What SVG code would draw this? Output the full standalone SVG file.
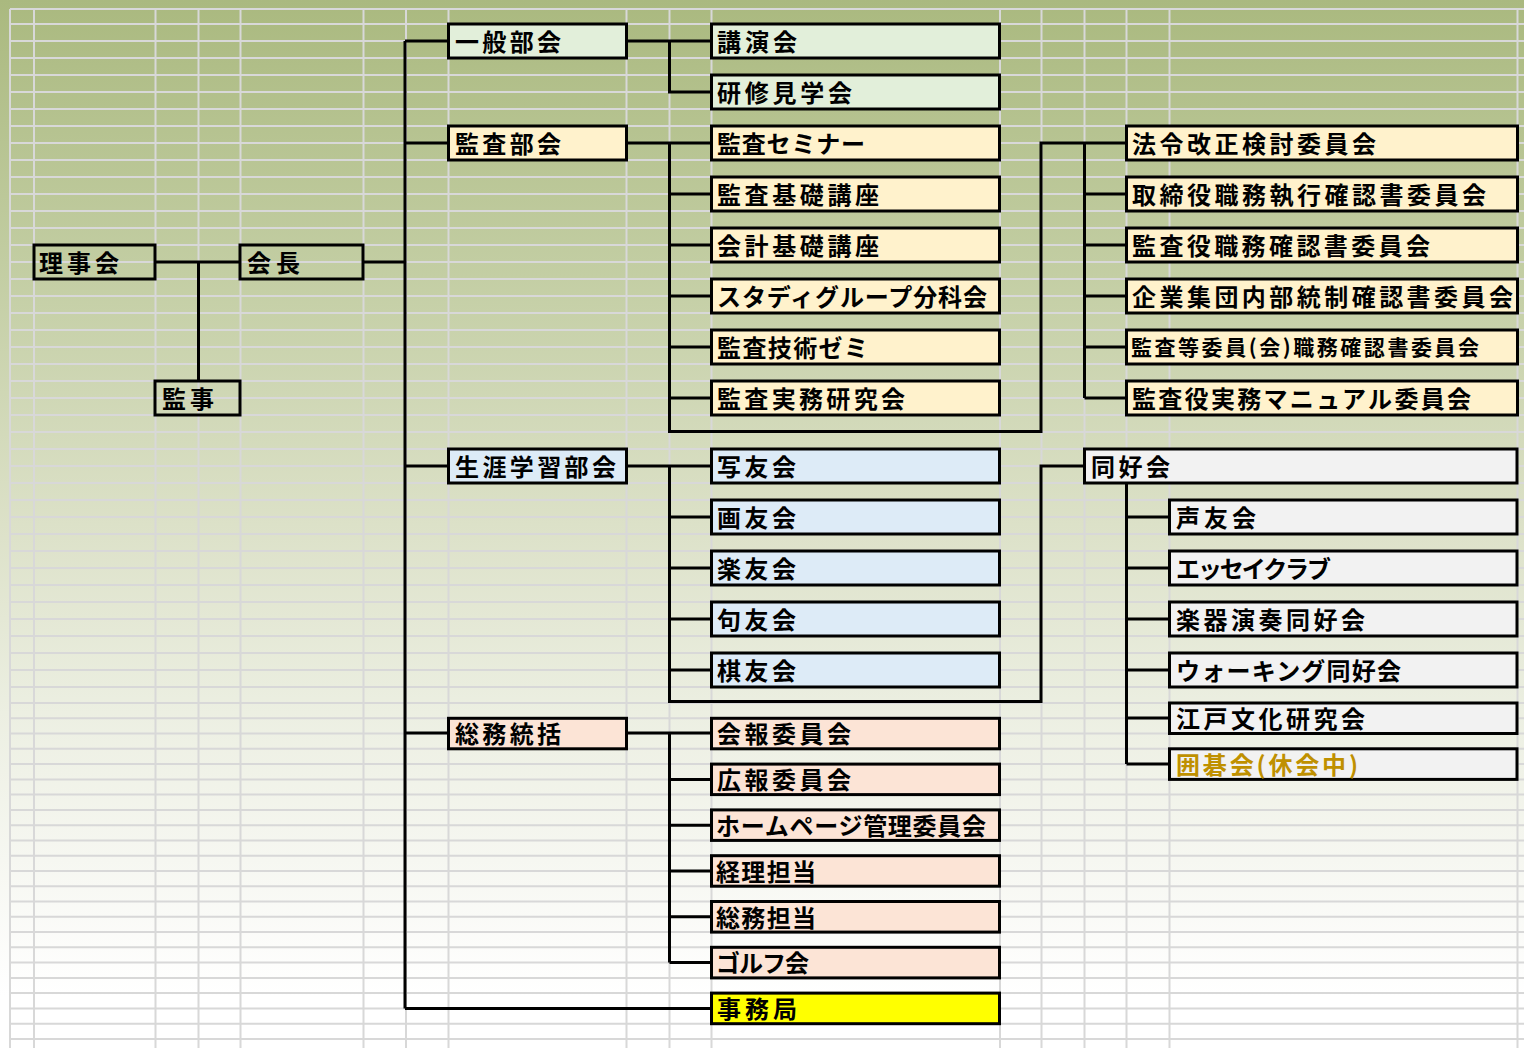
<svg xmlns="http://www.w3.org/2000/svg" width="1524" height="1048" viewBox="0 0 1524 1048">
<defs>
<linearGradient id="bg" x1="0" y1="0" x2="0" y2="1">
<stop offset="0" stop-color="#aab97f"/>
<stop offset="0.25" stop-color="#c2cda2"/>
<stop offset="0.5" stop-color="#dce1c8"/>
<stop offset="0.68" stop-color="#ecefe2"/>
<stop offset="0.82" stop-color="#f6f7f1"/>
<stop offset="0.95" stop-color="#ffffff"/>
</linearGradient>
</defs>
<style>
.grid{stroke:#d8d8d8;stroke-width:2;fill:none}
.conn{stroke:#000;stroke-width:3;fill:none;stroke-linejoin:miter}
.box{stroke:#000;stroke-width:3}
.none{fill:none}
.g{fill:#e2efda}
.y{fill:#fff2cc}
.b{fill:#ddebf7}
.p{fill:#fce4d6}
.k{fill:#f2f2f2}
.yy{fill:#ffff00}
.t{font-family:"Noto Sans CJK JP","Noto Sans CJK SC",sans-serif;font-size:24px;font-weight:700;fill:#000}
</style>
<rect x="0" y="0" width="1524" height="1048" fill="url(#bg)"/>
<g id="grid">
<path class="grid" d="M10 9V1048M34 9V1048M155.5 9V1048M198.5 9V1048M240.5 9V1048M363.5 9V1048M406 9V1048M448.5 9V1048M626.5 9V1048M669.5 9V1048M711.5 9V1048M1000 9V1048M1041.5 9V1048M1084.5 9V1048M1126.5 9V1048M1169.5 9V1048M1517.5 9V1048"/>
<path class="grid" d="M10 9H1524M10 24H1524M10 41H1524M10 58H1524M10 75H1524M10 92H1524M10 109H1524M10 126H1524M10 143H1524M10 160H1524M10 177H1524M10 194H1524M10 211H1524M10 228H1524M10 245H1524M10 262H1524M10 279H1524M10 296H1524M10 313H1524M10 330H1524M10 347H1524M10 364H1524M10 381H1524M10 398H1524M10 415H1524M10 432H1524M10 449H1524M10 466H1524M10 483H1524M10 500H1524M10 517H1524M10 534H1524M10 551H1524M10 568H1524M10 585H1524M10 602H1524M10 619H1524M10 636H1524M10 653H1524M10 670H1524M10 687H1524M10 703H1524M10 718.3H1524M10 733.5H1524M10 748.8H1524M10 764.1H1524M10 779.4H1524M10 794.6H1524M10 809.9H1524M10 825.2H1524M10 840.4H1524M10 855.7H1524M10 871H1524M10 886.2H1524M10 901.5H1524M10 916.8H1524M10 932.1H1524M10 947.3H1524M10 962.6H1524M10 977.9H1524M10 993.1H1524M10 1008.4H1524M10 1023.7H1524M10 1039H1524"/>
</g>
<g id="connectors">
<path class="conn" d="M155 262H240M198.5 262V381M363 262H405"/>
<path class="conn" d="M405 41V1008.4M405 41H448.5M405 143H448.5M405 466H448.5M405 733H448.5M405 1008.4H711.5"/>
<path class="conn" d="M626.5 41H711.5M669.5 41V92H711.5"/>
<path class="conn" d="M626.5 143H711.5M669.5 143V431.5H1041V143H1126.5M669.5 194H711.5M669.5 245H711.5M669.5 296H711.5M669.5 347H711.5M669.5 398H711.5"/>
<path class="conn" d="M1084.5 143V398M1084.5 194H1126.5M1084.5 245H1126.5M1084.5 296H1126.5M1084.5 347H1126.5M1084.5 398H1126.5"/>
<path class="conn" d="M626.5 466H711.5M669.5 466V701.5H1041V466H1084M669.5 517H711.5M669.5 568H711.5M669.5 619H711.5M669.5 670H711.5"/>
<path class="conn" d="M1126.5 483V764M1126.5 517H1169.5M1126.5 568H1169.5M1126.5 619H1169.5M1126.5 670H1169.5M1126.5 718H1169.5M1126.5 764H1169.5"/>
<path class="conn" d="M626.5 733H711.5M669.5 733V962.6M669.5 779.4H711.5M669.5 825.2H711.5M669.5 871H711.5M669.5 916.8H711.5M669.5 962.6H711.5"/>
</g>
<g id="n-rijikai"><rect class="box none" x="34" y="245" width="121" height="34"/><text class="t" x="39" y="272" textLength="80" lengthAdjust="spacing">理事会</text></g>
<g id="n-kaicho"><rect class="box none" x="240" y="245" width="123" height="34"/><text class="t" x="247" y="272" textLength="53" lengthAdjust="spacing">会長</text></g>
<g id="n-kanji"><rect class="box none" x="155" y="381" width="85" height="34"/><text class="t" x="162" y="408" textLength="52" lengthAdjust="spacing">監事</text></g>

<g id="n-ippan"><rect class="box g" x="448.5" y="24" width="178" height="34"/><text class="t" x="455" y="51" textLength="106" lengthAdjust="spacing">一般部会</text></g>
<g id="n-kansa"><rect class="box y" x="448.5" y="126" width="178" height="34"/><text class="t" x="455" y="153" textLength="106" lengthAdjust="spacing">監査部会</text></g>
<g id="n-shogai"><rect class="box b" x="448.5" y="449" width="178" height="34"/><text class="t" x="455" y="476" textLength="161" lengthAdjust="spacing">生涯学習部会</text></g>
<g id="n-somu"><rect class="box p" x="448.5" y="718.3" width="178" height="30.5"/><text class="t" x="455" y="743.3" textLength="106" lengthAdjust="spacing">総務統括</text></g>

<g id="n-koen"><rect class="box g" x="711.5" y="24" width="288" height="34"/><text class="t" x="717" y="51" textLength="80" lengthAdjust="spacing">講演会</text></g>
<g id="n-kenshu"><rect class="box g" x="711.5" y="75" width="288" height="34"/><text class="t" x="717" y="102" textLength="135" lengthAdjust="spacing">研修見学会</text></g>
<g id="n-seminar"><rect class="box y" x="711.5" y="126" width="288" height="34"/><text class="t" x="717" y="153" textLength="148" lengthAdjust="spacing">監査セミナー</text></g>
<g id="n-kiso"><rect class="box y" x="711.5" y="177" width="288" height="34"/><text class="t" x="717" y="204" textLength="162" lengthAdjust="spacing">監査基礎講座</text></g>
<g id="n-kaikei"><rect class="box y" x="711.5" y="228" width="288" height="34"/><text class="t" x="717" y="255" textLength="162" lengthAdjust="spacing">会計基礎講座</text></g>
<g id="n-study"><rect class="box y" x="711.5" y="279" width="288" height="34"/><text class="t" x="717" y="306" textLength="270" lengthAdjust="spacing">スタディグループ分科会</text></g>
<g id="n-zemi"><rect class="box y" x="711.5" y="330" width="288" height="34"/><text class="t" x="717" y="357" textLength="151" lengthAdjust="spacing">監査技術ゼミ</text></g>
<g id="n-jitsumu"><rect class="box y" x="711.5" y="381" width="288" height="34"/><text class="t" x="717" y="408" textLength="188" lengthAdjust="spacing">監査実務研究会</text></g>

<g id="n-shayu"><rect class="box b" x="711.5" y="449" width="288" height="34"/><text class="t" x="717" y="476" textLength="79" lengthAdjust="spacing">写友会</text></g>
<g id="n-gayu"><rect class="box b" x="711.5" y="500" width="288" height="34"/><text class="t" x="717" y="527" textLength="79" lengthAdjust="spacing">画友会</text></g>
<g id="n-rakuyu"><rect class="box b" x="711.5" y="551" width="288" height="34"/><text class="t" x="717" y="578" textLength="79" lengthAdjust="spacing">楽友会</text></g>
<g id="n-kuyu"><rect class="box b" x="711.5" y="602" width="288" height="34"/><text class="t" x="717" y="629" textLength="79" lengthAdjust="spacing">句友会</text></g>
<g id="n-kiyu"><rect class="box b" x="711.5" y="653" width="288" height="34"/><text class="t" x="717" y="680" textLength="79" lengthAdjust="spacing">棋友会</text></g>

<g id="n-kaiho"><rect class="box p" x="711.5" y="718.3" width="288" height="30.5"/><text class="t" x="717" y="743.3" textLength="134" lengthAdjust="spacing">会報委員会</text></g>
<g id="n-koho"><rect class="box p" x="711.5" y="764.1" width="288" height="30.5"/><text class="t" x="717" y="789" textLength="134" lengthAdjust="spacing">広報委員会</text></g>
<g id="n-hp"><rect class="box p" x="711.5" y="809.9" width="288" height="30.5"/><text class="t" x="716" y="834.9" textLength="270" lengthAdjust="spacing">ホームページ管理委員会</text></g>
<g id="n-keiri"><rect class="box p" x="711.5" y="855.7" width="288" height="30.5"/><text class="t" x="716" y="880.7" textLength="100" lengthAdjust="spacing">経理担当</text></g>
<g id="n-somutanto"><rect class="box p" x="711.5" y="901.5" width="288" height="30.6"/><text class="t" x="716" y="926.6" textLength="100" lengthAdjust="spacing">総務担当</text></g>
<g id="n-golf"><rect class="box p" x="711.5" y="947.3" width="288" height="30.6"/><text class="t" x="716" y="972.4" textLength="93" lengthAdjust="spacing">ゴルフ会</text></g>
<g id="n-jimukyoku"><rect class="box yy" x="711.5" y="993.1" width="288" height="30.6"/><text class="t" x="717" y="1018.2" textLength="80" lengthAdjust="spacing">事務局</text></g>

<g id="n-horei"><rect class="box y" x="1126.5" y="126" width="391" height="34"/><text class="t" x="1132" y="153" textLength="244" lengthAdjust="spacing">法令改正検討委員会</text></g>
<g id="n-torishimari"><rect class="box y" x="1126.5" y="177" width="391" height="34"/><text class="t" x="1132" y="204" textLength="354" lengthAdjust="spacing">取締役職務執行確認書委員会</text></g>
<g id="n-kansayaku"><rect class="box y" x="1126.5" y="228" width="391" height="34"/><text class="t" x="1132" y="255" textLength="298" lengthAdjust="spacing">監査役職務確認書委員会</text></g>
<g id="n-kigyo"><rect class="box y" x="1126.5" y="279" width="391" height="34"/><text class="t" x="1132" y="306" textLength="381" lengthAdjust="spacing">企業集団内部統制確認書委員会</text></g>
<g id="n-kansato"><rect class="box y" x="1126.5" y="330" width="391" height="34"/><text class="t" x="1131" y="354.5" style="font-size:21px" textLength="348" lengthAdjust="spacing">監査等委員(会)職務確認書委員会</text></g>
<g id="n-manual"><rect class="box y" x="1126.5" y="381" width="391" height="34"/><text class="t" x="1132" y="408" textLength="339" lengthAdjust="spacing">監査役実務マニュアル委員会</text></g>

<g id="n-dokokai"><rect class="box k" x="1084.5" y="449" width="432.5" height="34"/><text class="t" x="1091" y="476" textLength="79" lengthAdjust="spacing">同好会</text></g>
<g id="n-seiyu"><rect class="box k" x="1169.5" y="500" width="347.5" height="34"/><text class="t" x="1176" y="527" textLength="80" lengthAdjust="spacing">声友会</text></g>
<g id="n-essay"><rect class="box k" x="1169.5" y="551" width="347.5" height="34"/><text class="t" x="1176" y="578" textLength="155" lengthAdjust="spacing">エッセイクラブ</text></g>
<g id="n-gakki"><rect class="box k" x="1169.5" y="602" width="347.5" height="34"/><text class="t" x="1176" y="629" textLength="189" lengthAdjust="spacing">楽器演奏同好会</text></g>
<g id="n-walking"><rect class="box k" x="1169.5" y="653" width="347.5" height="34"/><text class="t" x="1176" y="680" textLength="225" lengthAdjust="spacing">ウォーキング同好会</text></g>
<g id="n-edo"><rect class="box k" x="1169.5" y="703" width="347.5" height="30.5"/><text class="t" x="1176" y="728" textLength="189" lengthAdjust="spacing">江戸文化研究会</text></g>
<g id="n-igo"><rect class="box k" x="1169.5" y="748.8" width="347.5" height="30.6"/><text class="t" x="1176" y="773.9" textLength="182" lengthAdjust="spacing" style="fill:#bf9000">囲碁会(休会中)</text></g>
</svg>
